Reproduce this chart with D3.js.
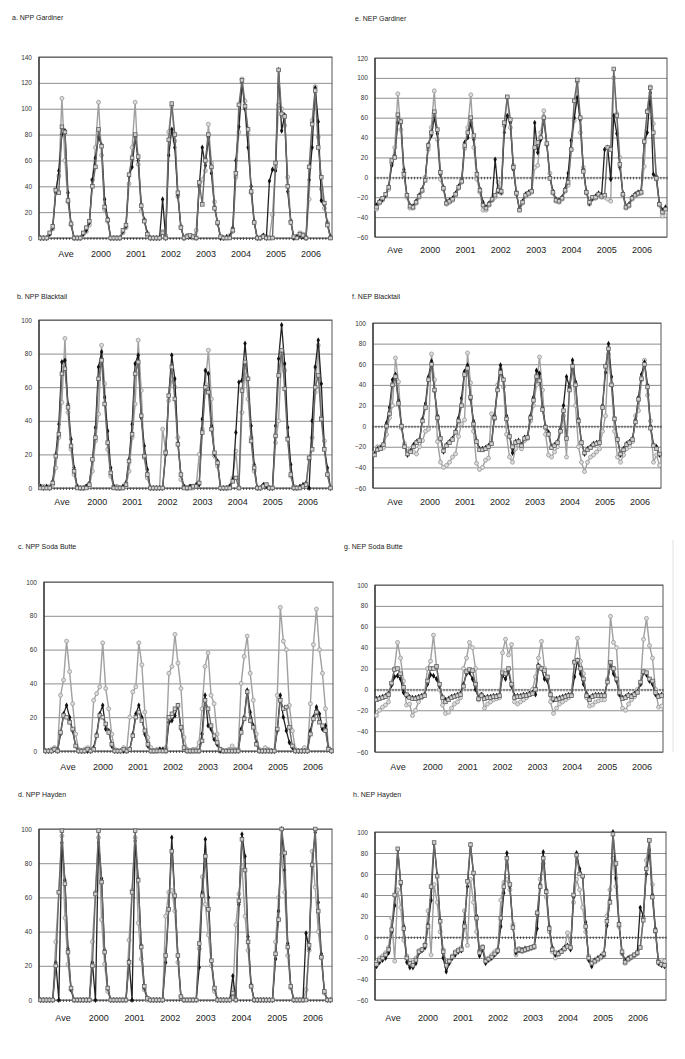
<!DOCTYPE html>
<html>
<head>
<meta charset="utf-8">
<script src="https://cdn.jsdelivr.net/npm/d3@7"></script>
<style>
  body { margin: 0; background: #fff; }
  svg { display: block; font-family: "Liberation Sans", Arial, sans-serif; }
</style>
</head>
<body>
<svg id="chart" width="685" height="1059"></svg>
<script>
// x categories: one block of 12 values per year
const years = ["Ave", "2000", "2001", "2002", "2003", "2004", "2005", "2006"];

// y tick labels
const ticksNpp140 = [0, 20, 40, 60, 80, 100, 120, 140];
const ticksNpp100 = [0, 20, 40, 60, 80, 100];
const ticksNep120 = [-60, -40, -20, 0, 20, 40, 60, 80, 100, 120];
const ticksNep100 = [-60, -40, -20, 0, 20, 40, 60, 80, 100];

// a. NPP Gardiner
const nppGardinerBlack = [
  0,0,0,3,8,35,52,80,83,35,11,0,
  0,0,3,6,12,45,62,78,72,30,15,0,
  0,0,0,5,9,48,55,78,60,26,14,4,
  0,0,0,0,30,0,64,84,70,33,8,0,
  1,1,1,0,40,70,56,78,50,24,12,0,
  0,1,1,8,60,86,120,100,70,40,13,0,
  0,2,0,44,53,52,130,83,95,36,13,0,
  1,2,1,0,45,70,116,90,29,26,11,1];
const nppGardinerDark = [
  0,0,0,4,9,37,35,86,82,29,11,0,
  0,0,4,8,13,40,55,84,71,24,14,0,
  0,0,0,6,10,49,62,80,63,25,13,3,
  0,0,0,0,4,0,76,104,80,35,8,0,
  1,2,1,0,43,26,60,80,55,23,12,1,
  0,0,0,6,50,103,122,102,84,36,12,0,
  0,1,0,0,0,58,130,96,94,40,12,1,
  0,3,2,0,55,88,114,70,47,27,10,0];
const nppGardinerLight = [
  0,0,0,3,7,38,48,108,60,28,10,0,
  0,0,3,5,10,45,70,105,64,22,13,0,
  0,0,0,4,8,42,70,105,57,21,14,2,
  0,0,0,0,5,2,82,102,75,32,9,0,
  2,1,0,6,40,45,52,88,58,28,11,1,
  0,0,2,5,47,82,123,106,80,35,12,0,
  0,2,1,0,18,55,103,100,87,47,13,1,
  1,4,3,0,30,91,117,78,38,23,12,0];

// e. NEP Gardiner
const nepGardinerBlack = [
  -28,-24,-22,-18,-9,12,22,55,56,8,-18,-28,
  -29,-24,-18,-12,-2,33,42,60,44,3,-10,-25,
  -23,-21,-16,-9,-3,35,40,55,38,4,-12,-25,
  -30,-26,-22,18,-14,-15,45,62,55,8,-17,-32,
  -24,-17,-15,-13,55,25,38,58,33,0,-14,-22,
  -23,-20,-12,4,37,60,80,58,8,-14,-26,-21,
  -19,-16,-18,28,30,-2,62,44,10,-16,-29,-27,
  -20,-17,-15,-14,35,45,85,3,1,-26,-33,-30];
const nepGardinerDark = [
  -30,-25,-21,-17,-10,17,20,63,56,3,-18,-29,
  -30,-25,-19,-13,-3,32,45,66,48,5,-11,-26,
  -24,-22,-17,-10,-4,32,45,60,42,3,-13,-28,
  -31,-27,-22,-18,-13,-14,55,81,58,10,-16,-33,
  -25,-18,-16,-14,30,35,40,60,34,-1,-15,-23,
  -24,-21,-13,-5,28,77,98,60,6,-15,-25,-20,
  -20,-17,-19,-18,30,28,109,62,13,-17,-30,-28,
  -21,-18,-16,-15,36,66,90,45,-1,-27,-35,-32];
const nepGardinerLight = [
  -32,-26,-23,-19,-12,14,30,84,48,5,-20,-31,
  -31,-26,-20,-14,0,28,50,87,38,-2,-12,-27,
  -25,-23,-18,-11,-5,29,50,83,30,-2,-15,-33,
  -33,-28,-23,-20,-5,-16,52,80,50,12,-15,-32,
  -26,-19,-17,-15,10,12,45,67,33,4,-16,-24,
  -25,-22,-14,-8,28,57,96,45,10,-16,-27,-22,
  -21,-18,-20,-20,-22,-24,100,64,20,-18,-31,-29,
  -22,-19,-17,-16,11,67,91,54,-2,-28,-39,-35];

// b. NPP Blacktail
const nppBlacktailBlack = [
  1,0,1,0,4,20,38,75,76,50,29,12,
  1,0,0,1,3,17,36,72,81,54,34,12,
  1,0,0,1,3,17,38,74,79,42,25,11,
  0,0,0,0,0,20,55,79,65,27,8,1,
  0,1,1,2,2,41,70,68,37,20,16,0,
  0,0,1,5,33,63,64,86,65,37,14,0,
  0,2,1,0,0,37,77,97,74,36,14,0,
  0,1,2,3,0,40,72,88,62,23,12,0];
const nppBlacktailDark = [
  0,0,0,0,3,19,32,68,71,48,25,10,
  0,0,0,0,2,17,30,65,76,50,27,9,
  0,0,0,0,2,16,32,68,75,43,19,8,
  0,0,0,0,0,21,55,72,53,26,8,0,
  0,0,1,1,3,33,60,57,35,21,15,0,
  0,0,0,4,6,0,58,75,65,28,12,0,
  0,1,2,0,0,31,67,82,59,29,8,0,
  0,0,1,2,18,23,60,67,41,23,8,0];
const nppBlacktailLight = [
  1,1,0,1,2,12,30,51,89,45,23,8,
  1,0,0,1,1,10,28,44,85,62,23,7,
  1,1,0,0,1,10,30,50,88,58,18,6,
  0,0,0,0,35,22,52,65,60,30,5,1,
  0,1,0,1,20,35,62,82,53,19,13,0,
  0,0,1,6,22,0,45,70,53,30,10,0,
  0,1,2,0,0,27,40,80,70,30,7,1,
  0,0,1,1,17,30,57,85,42,28,8,0];

// f. NEP Blacktail
const nepBlacktailBlack = [
  -27,-22,-21,-17,3,18,45,50,25,1,-19,-28,
  -24,-18,-15,-13,7,22,48,63,34,10,-11,-25,
  -18,-15,-12,-5,8,27,53,59,26,5,-14,-22,
  -22,-21,-19,-16,10,36,59,45,10,-9,-26,-15,
  -14,-18,-11,-10,10,28,54,51,18,0,-6,-20,
  -18,-15,-3,20,48,38,64,43,7,-15,-27,-22,
  -20,-17,-16,-15,20,52,80,48,8,-12,-28,-22,
  -17,-15,-12,6,28,50,62,40,0,-18,-20,-28];
const nepBlacktailDark = [
  -28,-23,-22,-18,0,12,40,48,22,0,-20,-27,
  -25,-20,-16,-14,5,18,45,60,35,8,-12,-24,
  -19,-16,-13,-6,5,20,50,56,28,2,-15,-23,
  -23,-22,-20,-17,8,35,52,45,7,-10,-20,-16,
  -15,-19,-12,-11,8,25,48,44,16,-1,-8,-21,
  -19,-16,-5,15,-12,35,58,40,5,-16,-26,-23,
  -21,-18,-17,-16,18,58,75,40,7,-13,-27,-23,
  -18,-16,-13,4,26,46,60,38,-2,-19,-22,-27];
const nepBlacktailLight = [
  -26,-20,-20,-21,-8,8,20,66,43,-2,-17,-25,
  -22,-25,-27,-20,-14,-5,-3,70,45,-15,-35,-40,
  -38,-35,-30,-27,-10,2,6,71,42,-5,-36,-42,
  -40,-33,-31,12,7,40,55,38,-8,-30,-35,-22,
  -18,-22,-14,-12,5,20,40,67,35,-8,-28,-30,
  -25,-20,-5,10,-30,38,55,20,-20,-35,-44,-35,
  -30,-28,-25,-22,-5,10,70,40,-5,-30,-35,-28,
  -22,-20,-15,10,15,45,64,30,5,-35,-28,-38];

// c. NPP Soda Butte
const nppSodaBlack = [
  0,0,0,1,0,10,22,27,20,12,3,0,
  0,0,0,0,2,10,22,27,13,12,3,0,
  0,0,0,0,1,10,22,27,20,10,3,0,
  0,0,1,1,0,17,18,21,27,13,2,0,
  0,0,0,0,10,33,15,13,7,4,0,0,
  0,0,0,0,0,13,20,36,23,15,5,0,
  0,0,0,0,0,12,33,20,12,5,2,0,
  0,0,0,0,12,20,26,22,13,15,1,0];
const nppSodaDark = [
  0,0,0,1,0,11,21,20,17,13,3,0,
  0,0,1,0,1,9,21,20,16,11,4,0,
  0,0,1,0,1,9,20,23,18,12,4,0,
  0,0,0,0,0,20,22,25,27,14,2,0,
  0,0,0,0,6,30,25,15,9,5,1,0,
  0,0,0,0,0,11,19,35,18,14,4,0,
  0,0,0,0,0,13,30,25,26,14,3,0,
  0,0,0,0,10,19,23,17,15,12,1,0];
const nppSodaLight = [
  0,0,1,2,1,33,42,65,47,28,10,1,
  0,1,2,1,30,34,38,64,37,25,10,1,
  0,0,2,1,20,35,38,64,51,23,8,2,
  0,1,1,0,2,46,50,69,52,37,8,1,
  0,1,1,5,25,50,58,33,28,10,1,0,
  0,1,3,1,1,40,56,68,46,30,10,1,
  0,2,1,0,0,33,85,65,60,27,12,1,
  0,0,2,0,28,63,84,60,46,25,2,0];

// g. NEP Soda Butte
const nepSodaBlack = [
  -9,-8,-7,-6,-4,4,12,13,10,-3,-6,-7,
  -8,-8,-7,-6,-5,5,14,13,10,3,-7,-10,
  -9,-7,-6,-5,-4,5,15,16,10,0,-8,-5,
  -8,-7,-7,-6,-6,-5,13,10,17,3,-6,-6,
  -6,-5,-5,-4,-3,-5,23,20,10,8,-4,-10,
  -9,-8,-7,-6,-5,-5,12,28,15,5,-4,-8,
  -6,-5,-5,-5,-5,8,25,15,8,-5,-8,-7,
  -5,-6,-4,-2,5,16,14,8,5,-5,-6,-5];
const nepSodaDark = [
  -10,-9,-8,-7,-5,6,19,20,15,2,-5,-8,
  -9,-9,-8,-7,-6,8,20,20,22,5,-8,-12,
  -10,-8,-7,-6,-5,3,17,19,18,5,-9,-6,
  -9,-8,-8,-7,-7,-6,16,15,20,5,-8,-7,
  -7,-6,-6,-5,-4,0,22,20,18,12,-5,-9,
  -10,-9,-8,-7,-6,-6,26,28,20,10,-6,-10,
  -7,-6,-6,-6,-6,7,26,20,10,-3,-9,-8,
  -6,-7,-5,-3,7,17,16,10,8,-3,-7,-6];
const nepSodaLight = [
  -25,-20,-17,-15,-12,5,20,45,30,8,-15,-14,
  -25,-20,-12,-8,-5,20,27,52,22,0,-15,-23,
  -22,-18,-14,-12,-8,20,30,45,40,20,-10,-5,
  -18,-14,-12,-10,-9,-8,35,48,33,43,-12,-14,
  -12,-10,-8,-5,0,12,30,46,20,10,-12,-23,
  -18,-14,-12,-10,-8,-5,27,49,27,15,-8,-16,
  -15,-12,-11,-10,-10,10,70,45,40,-5,-18,-20,
  -14,-10,-7,0,5,48,68,42,30,0,-17,-16];

// d. NPP Hayden
const nppHaydenBlack = [
  0,0,0,0,0,22,0,92,70,30,6,0,
  0,0,0,0,0,22,0,92,71,29,7,0,
  0,0,0,0,0,23,0,93,71,32,7,1,
  0,0,0,0,0,22,53,95,60,26,2,0,
  0,0,0,0,19,63,94,60,23,7,0,0,
  0,0,0,14,0,56,97,84,37,9,0,0,
  0,0,0,0,0,24,52,100,76,33,8,0,
  0,0,0,39,30,79,98,57,27,5,0,0];
const nppHaydenDark = [
  0,0,0,0,0,20,63,99,68,28,7,0,
  0,0,0,0,0,20,62,99,69,28,7,0,
  0,0,0,0,0,22,63,99,70,31,8,1,
  0,0,0,0,0,26,53,87,61,26,2,0,
  0,0,0,0,33,61,84,53,23,7,0,0,
  0,0,0,4,0,58,94,76,34,8,0,0,
  0,0,0,0,0,27,47,100,86,31,8,0,
  0,0,0,0,32,79,100,52,25,5,0,0];
const nppHaydenLight = [
  0,0,0,0,0,34,63,96,48,21,6,0,
  0,0,0,0,0,34,63,95,47,21,5,0,
  0,0,0,0,0,35,64,95,45,24,6,0,
  0,0,0,0,0,49,63,64,52,22,2,0,
  0,0,0,0,30,72,56,38,20,5,0,0,
  0,0,0,2,44,62,78,49,29,8,0,0,
  0,0,0,0,0,34,60,85,63,26,7,0,
  0,0,0,6,29,87,66,40,25,4,0,0];

// h. NEP Hayden
const nepHaydenBlack = [
  -28,-24,-22,-20,-15,5,30,83,50,10,-24,-29,
  -29,-25,-15,-13,-10,12,35,89,59,16,-20,-33,
  -25,-20,-17,-14,-13,14,48,88,60,20,-18,-12,
  -25,-22,-20,-17,-14,10,42,80,48,10,-15,-13,
  -12,-11,-11,-10,-9,8,50,81,45,10,-10,-17,
  -15,-13,-10,-8,-12,38,80,65,57,14,-22,-28,
  -22,-20,-18,-17,11,35,100,56,13,-15,-22,-20,
  -19,-17,-15,28,20,60,83,40,8,-25,-27,-28];
const nepHaydenDark = [
  -26,-22,-20,-17,-12,7,40,84,52,8,-20,-25,
  -27,-22,-14,-12,-8,10,48,90,58,15,-14,-27,
  -23,-19,-15,-13,-12,10,53,88,61,18,-15,-10,
  -23,-21,-19,-16,-13,18,48,75,50,9,-13,-12,
  -13,-12,-11,-10,-9,23,48,75,43,8,-12,-15,
  -16,-14,-11,-9,-10,40,78,60,58,10,-20,-25,
  -23,-21,-19,-16,15,33,98,70,12,-14,-24,-21,
  -19,-17,-15,-10,16,65,92,38,6,-24,-26,-27];
const nepHaydenLight = [
  -24,-20,-18,-15,-10,18,-23,45,28,-3,-18,-22,
  -24,-20,-13,-12,-7,25,-17,50,33,5,-12,-24,
  -22,-18,-14,-12,-10,25,-8,55,33,5,-13,-9,
  -22,-20,-17,-14,-12,35,52,55,45,12,-17,-11,
  -14,-13,-12,-11,-10,22,55,70,38,5,-14,-20,
  -17,-14,-12,4,-10,33,55,45,28,5,-18,-24,
  -24,-22,-20,-18,20,45,75,48,10,-16,-25,-22,
  -20,-18,-16,-10,18,73,92,50,5,-22,-22,-23];

// panel layout
const panels = [
  { title: "a.  NPP Gardiner", tx: 12, ty: 20, box: [39, 57, 332, 238], ticks: ticksNpp140,
    black: nppGardinerBlack, dark: nppGardinerDark, light: nppGardinerLight, labelY: 257, labelRange: [27, 272] },
  { title: "e. NEP Gardiner", tx: 355, ty: 21, box: [375, 58, 667, 237], ticks: ticksNep120,
    black: nepGardinerBlack, dark: nepGardinerDark, light: nepGardinerLight, labelY: 253, labelRange: [20, 267] },
  { title: "b.   NPP Blacktail", tx: 17, ty: 299, box: [39, 320, 332, 488], ticks: ticksNpp100,
    black: nppBlacktailBlack, dark: nppBlacktailDark, light: nppBlacktailLight, labelY: 505, labelRange: [23, 269] },
  { title: "f.  NEP Blacktail", tx: 352, ty: 299, box: [373, 323, 661, 488], ticks: ticksNep100,
    black: nepBlacktailBlack, dark: nepBlacktailDark, light: nepBlacktailLight, labelY: 505, labelRange: [22, 267] },
  { title: "c. NPP Soda Butte", tx: 18, ty: 549, box: [44, 582, 333, 751], ticks: ticksNpp100,
    black: nppSodaBlack, dark: nppSodaDark, light: nppSodaLight, labelY: 770, labelRange: [24, 269] },
  { title: "g. NEP Soda Butte", tx: 344, ty: 549, box: [375, 585, 663, 752], ticks: ticksNep100,
    black: nepSodaBlack, dark: nepSodaDark, light: nepSodaLight, labelY: 770, labelRange: [23, 267] },
  { title: "d. NPP Hayden", tx: 18, ty: 797, box: [39, 829, 332, 1000], ticks: ticksNpp100,
    black: nppHaydenBlack, dark: nppHaydenDark, light: nppHaydenLight, labelY: 1021, labelRange: [24, 274] },
  { title: "h.  NEP Hayden", tx: 353, ty: 797, box: [375, 832, 666, 1000], ticks: ticksNep100,
    black: nepHaydenBlack, dark: nepHaydenDark, light: nepHaydenLight, labelY: 1021, labelRange: [18, 263] }
];

const svg = d3.select("#chart");

function drawPanel(p) {
  const [x0, y0, x1, y1] = p.box;
  const n = p.black.length;
  const x = d3.scaleLinear().domain([0, n]).range([x0, x1]);
  const y = d3.scaleLinear().domain(d3.extent(p.ticks)).range([y1, y0]);
  const g = svg.append("g");

  // title
  g.append("text")
    .attr("x", p.tx).attr("y", p.ty)
    .style("font-size", "7px").attr("fill", "#222")
    .text(p.title);

  // gridlines
  g.append("g")
    .attr("transform", `translate(${x0},0)`)
    .call(d3.axisLeft(y).tickValues(p.ticks).tickSize(-(x1 - x0)).tickFormat(""))
    .call(s => s.select(".domain").remove())
    .call(s => s.selectAll(".tick line").attr("stroke", "#8e8e8e").attr("stroke-width", 1));

  // y tick labels
  g.append("g")
    .attr("transform", `translate(${x0},0)`)
    .call(d3.axisLeft(y).tickValues(p.ticks).tickSize(0).tickPadding(7))
    .call(s => s.select(".domain").remove())
    .call(s => s.selectAll("text").style("font-size", "6.5px").attr("fill", "#333")
      .attr("font-family", "'Liberation Sans', Arial, sans-serif"));

  // plot frame
  g.append("rect")
    .attr("x", x0).attr("y", y0).attr("width", x1 - x0).attr("height", y1 - y0)
    .attr("fill", "none").attr("stroke", "#555").attr("stroke-width", 1);
  g.append("line")
    .attr("x1", x0).attr("x2", x0).attr("y1", y0).attr("y2", y1)
    .attr("stroke", "#333").attr("stroke-width", 1.3);

  // category ticks on the zero line (gives the dotted look)
  g.append("g").selectAll("line")
    .data(d3.range(n + 1))
    .join("line")
    .attr("x1", i => x(i)).attr("x2", i => x(i))
    .attr("y1", y(0) - 0.5).attr("y2", y(0) + 2)
    .attr("stroke", "#333").attr("stroke-width", 0.8);

  // year labels
  const lx = d3.scalePoint().domain(years).range([x0 + p.labelRange[0], x0 + p.labelRange[1]]);
  g.append("g").selectAll("text")
    .data(years)
    .join("text")
    .attr("x", d => lx(d)).attr("y", p.labelY)
    .attr("text-anchor", "middle")
    .style("font-size", "9px").attr("fill", "#222")
    .text(d => d);

  const line = d3.line().x((d, i) => x(i + 0.5)).y(d => y(d));

  // light grey series, hollow circles
  g.append("path").datum(p.light).attr("d", line)
    .attr("fill", "none").attr("stroke", "#a0a0a0").attr("stroke-width", 1.4);
  g.append("g").selectAll("circle").data(p.light).join("circle")
    .attr("cx", (d, i) => x(i + 0.5)).attr("cy", d => y(d)).attr("r", 2)
    .attr("fill", "#dcdcdc").attr("stroke", "#999").attr("stroke-width", 0.8);

  // black series, small filled diamonds
  g.append("path").datum(p.black).attr("d", line)
    .attr("fill", "none").attr("stroke", "#222").attr("stroke-width", 1.3);
  g.append("g").selectAll("path").data(p.black).join("path")
    .attr("d", d3.symbol(d3.symbolDiamond, 10))
    .attr("transform", (d, i) => `translate(${x(i + 0.5)},${y(d)})`)
    .attr("fill", "#111");

  // dark grey series, hollow squares (drawn last, as in the original)
  g.append("path").datum(p.dark).attr("d", line)
    .attr("fill", "none").attr("stroke", "#6a6a6a").attr("stroke-width", 1.4);
  g.append("g").selectAll("rect").data(p.dark).join("rect")
    .attr("x", (d, i) => x(i + 0.5) - 1.8).attr("y", d => y(d) - 1.8)
    .attr("width", 3.6).attr("height", 3.6)
    .attr("fill", "#cfcfcf").attr("stroke", "#5e5e5e").attr("stroke-width", 0.8);
}

panels.forEach(drawPanel);

// faint scan edge to the right of panel g
svg.append("line")
  .attr("x1", 673).attr("x2", 673).attr("y1", 540).attr("y2", 752)
  .attr("stroke", "#e2e2e2").attr("stroke-width", 1);
</script>
</body>
</html>
